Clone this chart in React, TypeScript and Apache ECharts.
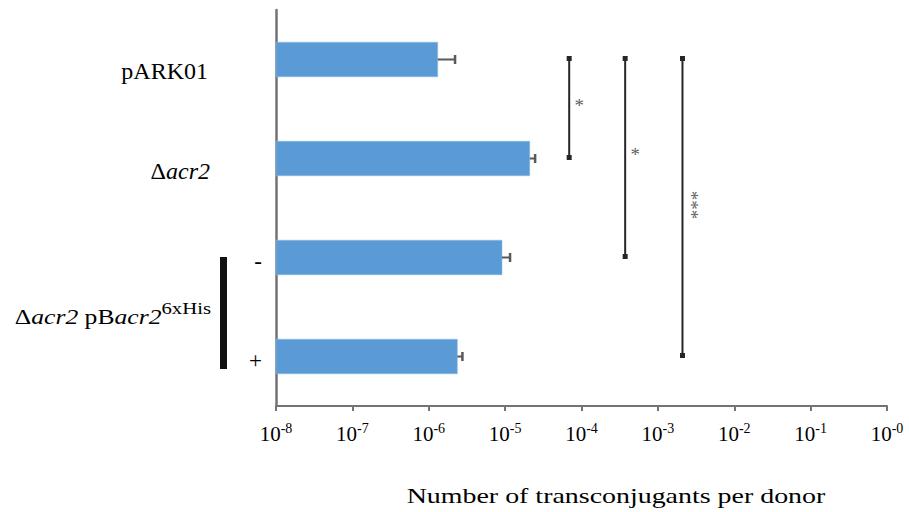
import { useEffect, useRef } from "react";
import * as echarts from "echarts";

const categories = ["pARK01", "Δacr2", "-", "+"];
const barValues = [1.31e-6, 2.1e-5, 9.1e-6, 2.37e-6];
const errorHigh = [2.21e-6, 2.47e-5, 1.16e-5, 2.76e-6];
const tickExponents = ["-8", "-7", "-6", "-5", "-4", "-3", "-2", "-1", "-0"];
const bracketX = [6.9e-5, 3.73e-4, 2.1e-3];
const bracketFrom = [0, 0, 0];
const bracketTo = [1, 2, 3];
const bracketStars = ["*", "*", "***"];
const axisTitle = "Number of transconjugants per donor";
const groupParts = ["Δ", "acr2", " pB", "acr2", "6xHis"];

const SERIF = "Liberation Serif";
const AXIS_MIN = 1e-8;
const AXIS_MAX = 1;

export default function App() {
  const ref = useRef<HTMLDivElement>(null);

  useEffect(() => {
    if (!ref.current) return;
    const chart = echarts.init(ref.current, null, { renderer: "svg" });

    const option: any = {
      animation: false,
      backgroundColor: "#ffffff",
      textStyle: { fontFamily: SERIF },
      grid: {
        left: 276,
        right: 22,
        top: 10,
        bottom: 106,
        containLabel: false,
        outerBoundsMode: "none",
      },
      xAxis: {
        type: "log",
        logBase: 10,
        min: AXIS_MIN,
        max: AXIS_MAX,
        splitNumber: 8,
        axisLine: { show: true, lineStyle: { color: "#737373", width: 2 } },
        axisTick: { show: true, length: 5, lineStyle: { color: "#737373", width: 2 } },
        splitLine: { show: false },
        axisLabel: {
          margin: 16,
          fontFamily: SERIF,
          formatter: (_v: number, i: number) => `{b|10}{s|${tickExponents[i] ?? ""}}`,
          rich: {
            b: { fontFamily: SERIF, fontSize: 21, color: "#000", lineHeight: 24 },
            s: { fontFamily: SERIF, fontSize: 14, color: "#000", lineHeight: 16, padding: [0, 0, 12, 0] },
          },
        },
      },
      yAxis: {
        type: "category",
        inverse: true,
        data: categories,
        axisLine: { show: true, lineStyle: { color: "#737373", width: 2.5 } },
        axisTick: { show: false },
        splitLine: { show: false },
        axisLabel: {
          margin: 14,
          fontFamily: SERIF,
          formatter: (v: string, i: number) => {
            if (i === 0) return `{n|${v}}`;
            if (i === 1) return `{d|${v.slice(0, 1)}}{it|${v.slice(1)}}`;
            return `{pm|${v}}`;
          },
          rich: {
            n: { fontFamily: SERIF, fontSize: 24, color: "#000", padding: [22, 54, 0, 0] },
            d: { fontFamily: SERIF, fontSize: 24, color: "#000", padding: [24, 0, 0, 0] },
            it: { fontFamily: SERIF, fontSize: 24, fontStyle: "italic", color: "#000", padding: [24, 52, 0, 0] },
            pm: { fontFamily: SERIF, fontSize: 23, color: "#000", padding: [7, 0, 0, 0] },
          },
        },
      },
      series: [
        {
          type: "custom",
          name: "bars",
          encode: { x: 0, y: 1 },
          data: barValues.map((v, i) => [v, i]),
          renderItem: (_p: any, api: any) => {
            const idx = api.value(1);
            const start = api.coord([AXIS_MIN, idx]);
            const end = api.coord([api.value(0), idx]);
            const band = Math.abs(api.coord([AXIS_MIN, 1])[1] - api.coord([AXIS_MIN, 0])[1]);
            const h = band * 0.35;
            return {
              type: "rect",
              shape: { x: start[0], y: start[1] - h / 2, width: end[0] - start[0], height: h },
              style: { fill: "#5B9BD5", stroke: "#8DB9E3", lineWidth: 0.5 },
            };
          },
        },
        {
          type: "custom",
          name: "errors",
          encode: { x: 0, y: 1 },
          data: errorHigh.map((v, i) => [v, i, barValues[i]]),
          renderItem: (_p: any, api: any) => {
            const idx = api.value(1);
            const a = api.coord([api.value(2), idx]);
            const b = api.coord([api.value(0), idx]);
            return {
              type: "group",
              children: [
                {
                  type: "line",
                  shape: { x1: a[0], y1: a[1], x2: b[0], y2: b[1] },
                  style: { stroke: "#595959", lineWidth: 2 },
                },
                {
                  type: "line",
                  shape: { x1: b[0], y1: b[1] - 4.5, x2: b[0], y2: b[1] + 4.5 },
                  style: { stroke: "#595959", lineWidth: 2.5 },
                },
              ],
            };
          },
        },
        {
          type: "custom",
          name: "brackets",
          encode: { x: 0, y: [1, 2] },
          data: bracketX.map((x, i) => [x, bracketFrom[i], bracketTo[i]]),
          renderItem: (params: any, api: any) => {
            const x = api.value(0);
            const p1 = api.coord([x, api.value(1)]);
            const p2 = api.coord([x, api.value(2)]);
            const star = bracketStars[params.dataIndex];
            const multi = star.length > 1;
            const midY = (p1[1] + p2[1]) / 2;
            return {
              type: "group",
              children: [
                {
                  type: "line",
                  shape: { x1: p1[0], y1: p1[1] - 1, x2: p2[0], y2: p2[1] - 1 },
                  style: { stroke: "#262626", lineWidth: 2 },
                },
                {
                  type: "rect",
                  shape: { x: p1[0] - 2.5, y: p1[1] - 3.5, width: 5, height: 5 },
                  style: { fill: "#262626" },
                },
                {
                  type: "rect",
                  shape: { x: p2[0] - 2.5, y: p2[1] - 3.5, width: 5, height: 5 },
                  style: { fill: "#262626" },
                },
                {
                  type: "text",
                  x: p1[0] + (multi ? 9 : 10),
                  y: multi ? midY - 3 : midY - 4,
                  rotation: multi ? -Math.PI / 2 : 0,
                  style: {
                    text: star,
                    fontFamily: SERIF,
                    fontSize: 19,
                    fill: "#5f5f5f",
                    stroke: "none",
                    lineWidth: 0,
                    align: "center",
                    verticalAlign: "middle",
                  },
                },
              ],
            };
          },
        },
      ],
      graphic: [
        {
          type: "text",
          x: 616,
          y: 496,
          scaleX: 1.27,
          style: {
            text: axisTitle,
            fontFamily: SERIF,
            fontSize: 22,
            fill: "#000",
            align: "center",
            verticalAlign: "middle",
          },
        },
        {
          type: "text",
          x: 211,
          y: 317,
          scaleX: 1.22,
          style: {
            text: `{d|${groupParts[0]}}{i|${groupParts[1]}}{n|${groupParts[2]}}{i|${groupParts[3]}}{s|${groupParts[4]}}`,
            align: "right",
            verticalAlign: "middle",
            fontFamily: SERIF,
            rich: {
              d: { fontFamily: SERIF, fontSize: 21, fill: "#000" },
              i: { fontFamily: SERIF, fontSize: 21, fontStyle: "italic", fill: "#000" },
              n: { fontFamily: SERIF, fontSize: 21, fill: "#000" },
              s: { fontFamily: SERIF, fontSize: 17, fill: "#000", padding: [0, 0, 18, 0] },
            },
          },
        },
        {
          type: "rect",
          shape: { x: 220, y: 257, width: 7, height: 112 },
          style: { fill: "#111111" },
        },
      ],
    };

    chart.setOption(option);
    return () => chart.dispose();
  }, []);

  return (
    <div
      ref={ref}
      style={{ position: "absolute", left: 0, top: 0, width: 909, height: 512, background: "#fff" }}
    />
  );
}
